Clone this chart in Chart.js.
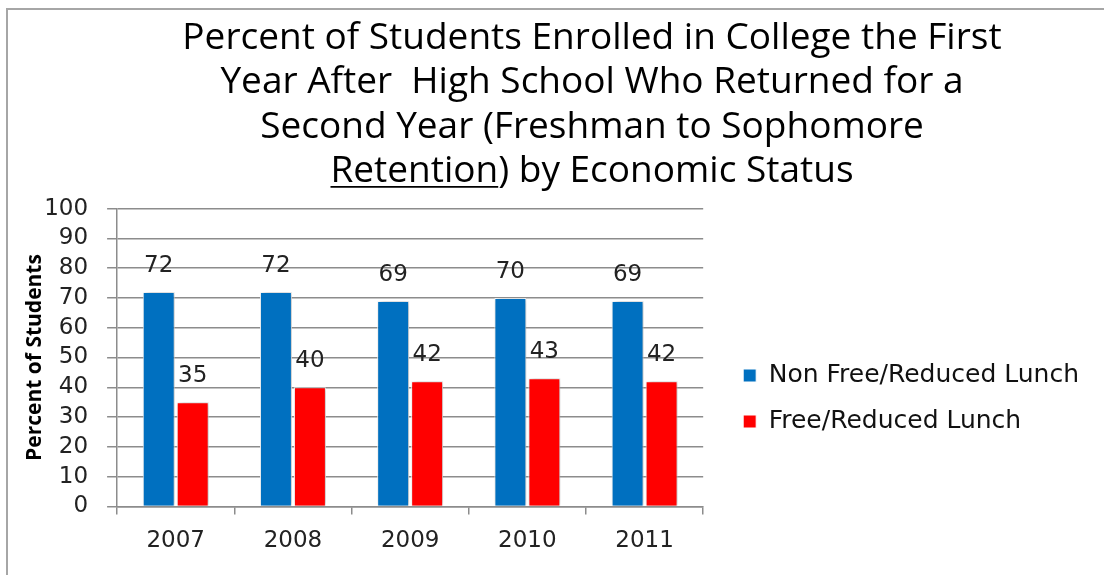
<!DOCTYPE html>
<html>
<head>
<meta charset="utf-8">
<script src="https://cdn.jsdelivr.net/npm/chart.js@4"></script>
<style>
html,body{margin:0;padding:0;background:#fff;}
#wrap{position:relative;width:1104px;height:575px;}
#frame{position:absolute;left:6px;top:8px;right:0;bottom:0;border-top:2px solid #a6a6a6;border-left:2px solid #a6a6a6;pointer-events:none;}
canvas{position:absolute;left:0;top:0;}
</style>
</head>
<body>
<div id="wrap"><canvas id="c" width="1104" height="575"></canvas><div id="frame"></div></div>
<script>
const categories = ['2007', '2008', '2009', '2010', '2011'];
const nonFreeLunch = [72, 72, 69, 70, 69];
const freeLunch = [35, 40, 42, 43, 42];
const seriesNames = ['Non Free/Reduced Lunch', 'Free/Reduced Lunch'];
const titleLines = [
  'Percent of Students Enrolled in College the First',
  'Year After  High School Who Returned for a',
  'Second Year (Freshman to Sophomore',
  'Retention) by Economic Status'
];
const underlinedWord = 'Retention';
const yTitle = 'Percent of Students';

const TITLE_FONT = {family: 'Open Sans', size: 37, lineHeight: 1.2};
const TITLE_CENTER_X = 592;
const TICK_FONT_SIZE = 23;
const LEGEND_FONT_SIZE = 25;
const LEGEND_PAD = 21;

const barShadow = {
  id: 'barShadow',
  beforeDatasetsDraw(chart) {
    const ctx = chart.ctx;
    ctx.save();
    ctx.shadowColor = 'rgba(0,0,0,0.28)';
    ctx.shadowBlur = 6;
    ctx.shadowOffsetX = 2;
    ctx.shadowOffsetY = 0;
  },
  afterDatasetsDraw(chart) {
    chart.ctx.restore();
  }
};

const valueLabels = {
  id: 'valueLabels',
  afterDatasetsDraw(chart) {
    const ctx = chart.ctx;
    ctx.save();
    ctx.font = TICK_FONT_SIZE + 'px "DejaVu Sans"';
    ctx.fillStyle = '#222';
    ctx.textAlign = 'center';
    ctx.textBaseline = 'middle';
    chart.data.datasets.forEach((ds, di) => {
      chart.getDatasetMeta(di).data.forEach((el, i) => {
        ctx.fillText(String(ds.data[i]), el.x, el.y - 26);
      });
    });
    ctx.restore();
  }
};

const boxPlacement = {
  id: 'boxPlacement',
  afterLayout(chart) {
    const lg = chart.legend;
    if (lg) {
      const w = lg.width;
      lg.left = chart.chartArea.right + 19;
      lg.right = lg.left + w;
      lg.top = 342;
      lg.bottom = chart.height;
      lg.height = lg.bottom - lg.top;
    }
    const t = chart.titleBlock;
    if (t) {
      const shift = TITLE_CENTER_X - (t.left + t.right) / 2;
      t.left += shift;
      t.right += shift;
    }
  }
};

const titleUnderline = {
  id: 'titleUnderline',
  afterDraw(chart) {
    const t = chart.titleBlock;
    if (!t) return;
    const ctx = chart.ctx;
    ctx.save();
    ctx.font = TITLE_FONT.size + 'px "' + TITLE_FONT.family + '"';
    const lh = TITLE_FONT.size * TITLE_FONT.lineHeight;
    const last = titleLines.length - 1;
    const line = titleLines[last];
    const cx = (t.left + t.right) / 2;
    const w = ctx.measureText(line).width;
    const x0 = cx - w / 2;
    const uw = ctx.measureText(underlinedWord).width;
    const ymid = t.top + t.options.padding.top + lh / 2 + last * lh;
    const uy = ymid + TITLE_FONT.size * 0.42;
    ctx.strokeStyle = '#000';
    ctx.lineWidth = 1.8;
    ctx.beginPath();
    ctx.moveTo(x0, uy);
    ctx.lineTo(x0 + uw, uy);
    ctx.stroke();
    ctx.restore();
  }
};

new Chart(document.getElementById('c'), {
  type: 'bar',
  data: {
    labels: categories,
    datasets: [
      {label: seriesNames[0], data: nonFreeLunch, backgroundColor: '#0070c0', borderColor: '#ffffff', borderWidth: 1, categoryPercentage: 0.58, barPercentage: 0.94},
      {label: seriesNames[1], data: freeLunch, backgroundColor: '#ff0000', borderColor: '#ffffff', borderWidth: 1, categoryPercentage: 0.58, barPercentage: 0.94}
    ]
  },
  options: {
    responsive: false,
    animation: false,
    devicePixelRatio: 1,
    layout: {padding: {left: 17, right: 34, top: 16, bottom: 7}},
    plugins: {
      title: {
        display: true,
        text: titleLines,
        color: '#000',
        font: {family: TITLE_FONT.family, size: TITLE_FONT.size, weight: 'normal', lineHeight: TITLE_FONT.lineHeight},
        padding: {top: 0, bottom: 15}
      },
      legend: {
        position: 'right',
        align: 'start',
        maxWidth: 420,
        labels: {
          font: {family: 'DejaVu Sans', size: LEGEND_FONT_SIZE},
          color: '#111',
          boxWidth: 13,
          boxHeight: 13,
          padding: LEGEND_PAD
        }
      },
      tooltip: {enabled: false}
    },
    scales: {
      x: {
        offset: true,
        grid: {display: true, drawOnChartArea: false, offset: true, color: '#8c8c8c', lineWidth: 1.5, tickLength: 8},
        border: {display: true, color: '#8c8c8c', width: 1.5},
        ticks: {font: {family: 'DejaVu Sans', size: TICK_FONT_SIZE}, color: '#222', padding: 13}
      },
      y: {
        min: 0, max: 100,
        ticks: {stepSize: 10, autoSkip: false, font: {family: 'DejaVu Sans', size: TICK_FONT_SIZE}, color: '#222', padding: 19},
        grid: {color: '#8c8c8c', lineWidth: 1.5, tickLength: 10},
        border: {display: true, color: '#8c8c8c', width: 1.5},
        title: {display: true, text: yTitle, color: '#000', font: {family: 'Open Sans', size: 21, weight: 'bold'}, padding: {top: 5, bottom: -22}}
      }
    }
  },
  plugins: [barShadow, valueLabels, boxPlacement, titleUnderline]
});
</script>
</body>
</html>
